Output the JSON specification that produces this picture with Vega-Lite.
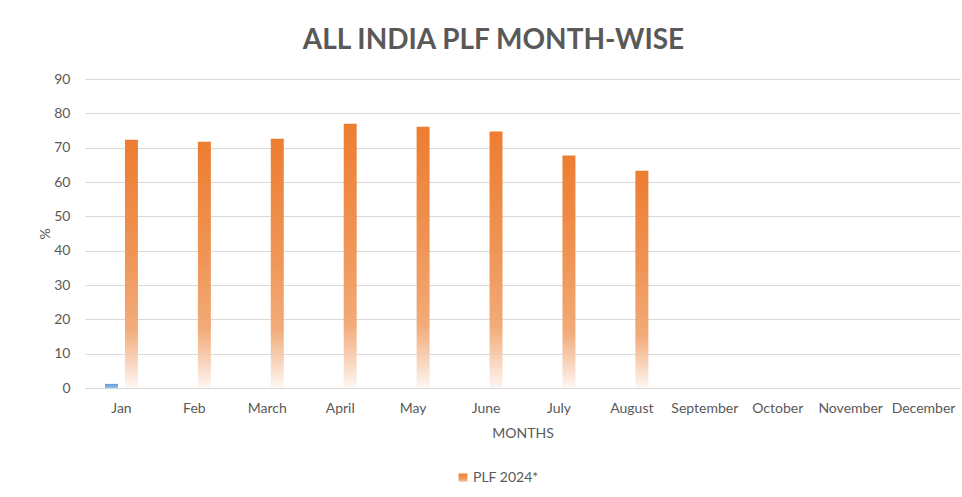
{
  "$schema": "https://vega.github.io/schema/vega-lite/v6.json",
  "width": 875,
  "height": 309,
  "autosize": "none",
  "padding": {"left": 85, "top": 79, "right": 2, "bottom": 109},
  "background": "white",
  "config": {"view": {"stroke": null}},
  "title": {
    "text": "ALL INDIA PLF MONTH-WISE",
    "font": "Lato",
    "fontSize": 28,
    "fontWeight": "bold",
    "color": "#595959",
    "anchor": "middle",
    "frame": "group",
    "dx": -29,
    "offset": -5,
    "baseline": "alphabetic"
  },
  "data": {
    "values": [
      {"month": "Jan", "series": "PLF 2023", "plf": 1.2},
      {"month": "Jan", "series": "PLF 2024*", "plf": 72.3},
      {"month": "Feb", "series": "PLF 2024*", "plf": 71.7},
      {"month": "March", "series": "PLF 2024*", "plf": 72.6},
      {"month": "April", "series": "PLF 2024*", "plf": 77.0},
      {"month": "May", "series": "PLF 2024*", "plf": 76.1},
      {"month": "June", "series": "PLF 2024*", "plf": 74.7},
      {"month": "July", "series": "PLF 2024*", "plf": 67.7},
      {"month": "August", "series": "PLF 2024*", "plf": 63.3}
    ]
  },
  "encoding": {
    "x": {
      "field": "month",
      "type": "nominal",
      "sort": ["Jan", "Feb", "March", "April", "May", "June", "July", "August", "September", "October", "November", "December"],
      "scale": {
        "domain": ["Jan", "Feb", "March", "April", "May", "June", "July", "August", "September", "October", "November", "December"],
        "paddingInner": 0,
        "paddingOuter": 0
      },
      "title": "MONTHS",
      "axis": {
        "labelAngle": 0,
        "labelFont": "Lato",
        "labelFontSize": 14,
        "labelColor": "#595959",
        "labelPadding": 13,
        "ticks": false,
        "domain": true,
        "domainColor": "#D9D9D9",
        "grid": false,
        "titleFont": "Lato",
        "titleFontSize": 14,
        "titleFontWeight": "normal",
        "titleColor": "#595959",
        "titleBaseline": "top",
        "titleY": 38
      }
    },
    "xOffset": {
      "field": "series",
      "type": "nominal",
      "scale": {"domain": ["PLF 2023", "PLF 2024*"], "paddingInner": 0.35, "paddingOuter": 1}
    },
    "y": {
      "field": "plf",
      "type": "quantitative",
      "scale": {"domain": [0, 90], "nice": false},
      "title": "%",
      "axis": {
        "values": [0, 10, 20, 30, 40, 50, 60, 70, 80, 90],
        "labelFont": "Lato",
        "labelFontSize": 14,
        "labelColor": "#595959",
        "labelPadding": 15,
        "ticks": false,
        "domain": false,
        "grid": true,
        "gridColor": "#D9D9D9",
        "gridWidth": 1,
        "titleFont": "Lato",
        "titleFontSize": 14,
        "titleFontWeight": "normal",
        "titleColor": "#595959",
        "titleX": -40,
        "titleY": 154.5,
        "titleAngle": -90,
        "titleAlign": "center",
        "titleBaseline": "middle"
      }
    }
  },
  "layer": [
    {
      "transform": [{"filter": "datum.series === 'PLF 2023'"}],
      "mark": {
        "type": "bar",
        "fill": {
          "gradient": "linear",
          "x1": 0, "y1": 0, "x2": 0, "y2": 1,
          "stops": [
            {"offset": 0, "color": "#5B9BD5"},
            {"offset": 1, "color": "#9DC3E6"}
          ]
        }
      }
    },
    {
      "transform": [{"filter": "datum.series === 'PLF 2024*'"}],
      "mark": {
        "type": "bar",
        "fill": {
          "gradient": "linear",
          "x1": 0, "y1": 0, "x2": 0, "y2": 1,
          "stops": [
            {"offset": 0, "color": "#ED7D31"},
            {"offset": 0.45, "color": "#EF9455"},
            {"offset": 0.76, "color": "#F2AB78"},
            {"offset": 0.9, "color": "#F8D6BE"},
            {"offset": 1, "color": "#FDF7F3"}
          ]
        }
      },
      "encoding": {
        "opacity": {
          "field": "series",
          "type": "nominal",
          "scale": {"domain": ["PLF 2024*"], "range": [1]},
          "legend": {
            "title": null,
            "orient": "none",
            "legendX": 371,
            "legendY": 392,
            "symbolType": "square",
            "symbolSize": 81,
            "symbolStrokeWidth": 0,
            "symbolFillColor": "#ED7D31",
            "symbolOpacity": 1,
            "labelFont": "Lato",
            "labelFontSize": 14,
            "labelColor": "#595959",
            "labelOffset": 3,
            "encode": {
              "symbols": {
                "update": {
                  "fill": {
                    "value": {
                      "gradient": "linear",
                      "x1": 0, "y1": 0, "x2": 0, "y2": 1,
                      "stops": [
                        {"offset": 0, "color": "#ED7D31"},
                        {"offset": 1, "color": "#F6C09A"}
                      ]
                    }
                  }
                }
              }
            }
          }
        }
      }
    }
  ]
}
